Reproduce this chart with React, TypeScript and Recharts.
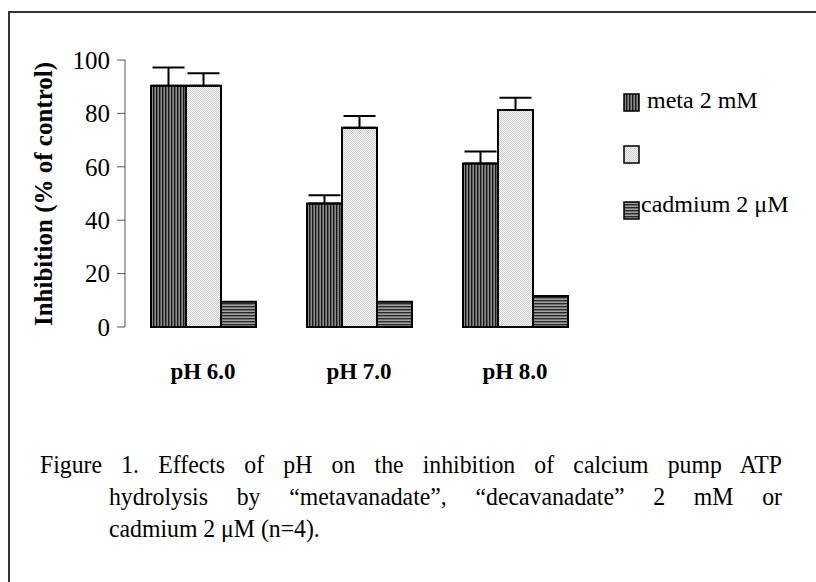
import React from 'react';
import { BarChart, Bar, XAxis, YAxis, ErrorBar } from 'recharts';

const categories = ['pH 6.0', 'pH 7.0', 'pH 8.0'];
const metaValues = [90.4, 46.3, 61.2];
const metaErrors = [6.8, 3.0, 4.5];
const decaValues = [90.4, 74.6, 81.3];
const decaErrors = [4.6, 4.4, 4.6];
const cadmiumValues = [9.5, 9.5, 11.6];
const yTicks = [0, 20, 40, 60, 80, 100];
const legendLabels = ['meta 2 mM', '', 'cadmium 2 \u03bcM'];
const patternIds = ['metaFill', 'decaFill', 'cadFill'];
const captionLines = [
  'Figure 1. Effects of pH on the inhibition of calcium pump ATP',
  'hydrolysis by \u201cmetavanadate\u201d, \u201cdecavanadate\u201d 2 mM or',
  'cadmium 2 \u03bcM (n=4).',
];

const data = categories.map((c, i) => ({
  name: c,
  meta: metaValues[i],
  metaErr: [0, metaErrors[i]],
  deca: decaValues[i],
  decaErr: [0, decaErrors[i]],
  cadmium: cadmiumValues[i],
}));

const serif = '"Liberation Serif", "Times New Roman", serif';

function LegendBox() {
  return (
    <div
      style={{
        position: 'absolute',
        left: 623,
        top: 60,
        fontFamily: serif,
        fontSize: 24,
        color: '#000',
      }}
    >
      {legendLabels.map((label, i) => (
        <div
          key={i}
          style={{ display: 'flex', alignItems: 'flex-end', height: 52 }}
        >
          <svg width={17} height={19} style={{ marginBottom: i === 2 ? -4 : 0 }}>
            <rect
              x={1}
              y={1}
              width={15}
              height={17}
              fill={`url(#${patternIds[i]})`}
              stroke="#000"
              strokeWidth={1.5}
            />
          </svg>
          <span style={{ marginLeft: i === 2 ? 1 : 7, lineHeight: '24px' }}>
            {label}
          </span>
        </div>
      ))}
    </div>
  );
}

// caption glyphs in the figure look a little condensed, so squeeze horizontally
const squeeze = 0.95;

function Caption() {
  return (
    <div
      style={{
        position: 'absolute',
        left: 40,
        top: 449,
        width: 742 / squeeze,
        fontFamily: serif,
        fontSize: 25,
        lineHeight: '32px',
        color: '#000',
        transform: `scaleX(${squeeze})`,
        transformOrigin: '0 0',
      }}
    >
      {captionLines.map((line, i) => (
        <div
          key={i}
          style={{
            marginLeft: i === 0 ? 0 : 69 / squeeze,
            textAlign: 'justify',
            textAlignLast: i === 2 ? 'left' : 'justify',
            whiteSpace: 'nowrap',
          }}
        >
          {line}
        </div>
      ))}
    </div>
  );
}

export default function App() {
  return (
    <div
      style={{
        position: 'absolute',
        left: 0,
        top: 0,
        width: 816,
        height: 582,
        overflow: 'hidden',
        background: '#fff',
      }}
    >
      <div
        style={{
          position: 'absolute',
          left: 8,
          top: 11,
          width: 900,
          height: 700,
          borderLeft: '2px solid #333',
          borderTop: '2px solid #333',
        }}
      />
      <div style={{ position: 'absolute', left: 0, top: 0 }}>
        <BarChart
          width={816}
          height={420}
          data={data}
          margin={{ top: 60, right: 223, bottom: 53, left: 25 }}
          barGap={0}
          barSize={35}
        >
          <defs>
            <pattern id="metaFill" width={3} height={3} patternUnits="userSpaceOnUse">
              <rect width={3} height={3} fill="#8a8a8a" />
              <rect width={1.4} height={3} fill="#1a1a1a" />
            </pattern>
            <pattern id="decaFill" width={2} height={2} patternUnits="userSpaceOnUse">
              <rect width={2} height={2} fill="#f3f3f3" />
              <rect width={1} height={1} fill="#cfcfcf" />
              <rect x={1} y={1} width={1} height={1} fill="#cfcfcf" />
            </pattern>
            <pattern id="cadFill" width={3} height={3} patternUnits="userSpaceOnUse">
              <rect width={3} height={3} fill="#a0a0a0" />
              <rect width={3} height={1.4} fill="#2a2a2a" />
            </pattern>
          </defs>
          <XAxis
            dataKey="name"
            axisLine={false}
            tickLine={false}
            height={40}
            tickMargin={30}
            tick={{ fontFamily: serif, fontSize: 23, fontWeight: 'bold', fill: '#000' }}
          />
          <YAxis
            width={100}
            domain={[0, 100]}
            ticks={yTicks}
            interval={0}
            tickSize={8}
            tickMargin={7}
            axisLine={{ stroke: '#555', strokeWidth: 1 }}
            tickLine={{ stroke: '#555', strokeWidth: 1 }}
            tick={{ fontFamily: serif, fontSize: 25, fill: '#000' }}
            label={{
              content: () => (
                <text
                  x={43}
                  y={194}
                  transform="rotate(-90, 43, 194)"
                  textAnchor="middle"
                  dominantBaseline="central"
                  fontFamily={serif}
                  fontSize={25}
                  fontWeight="bold"
                  fill="#000"
                >
                  Inhibition (% of control)
                </text>
              ),
            }}
          />
          <Bar
            dataKey="meta"
            fill="url(#metaFill)"
            stroke="#000"
            strokeWidth={2}
            isAnimationActive={false}
          >
            <ErrorBar dataKey="metaErr" width={16} stroke="#000" strokeWidth={2} direction="y" />
          </Bar>
          <Bar
            dataKey="deca"
            fill="url(#decaFill)"
            stroke="#000"
            strokeWidth={2}
            isAnimationActive={false}
          >
            <ErrorBar dataKey="decaErr" width={16} stroke="#000" strokeWidth={2} direction="y" />
          </Bar>
          <Bar
            dataKey="cadmium"
            fill="url(#cadFill)"
            stroke="#000"
            strokeWidth={2}
            isAnimationActive={false}
          />
        </BarChart>
      </div>
      <LegendBox />
      <Caption />
    </div>
  );
}
